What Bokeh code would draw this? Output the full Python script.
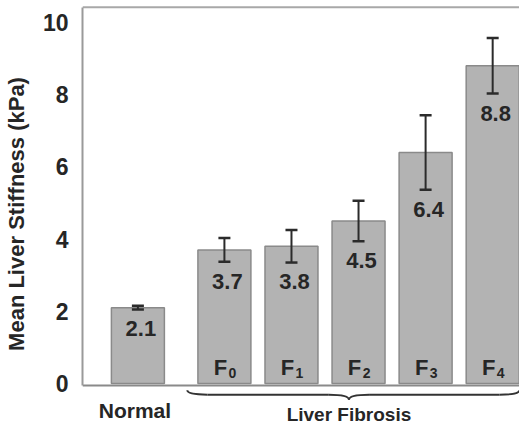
import math
from bokeh.plotting import figure
from bokeh.models import ColumnDataSource, Range1d, Whisker, TeeHead, FixedTicker
from bokeh.core.properties import value
from bokeh.embed import file_html
from bokeh.resources import INLINE

# ---- data ----
groups = ["Normal", "F0", "F1", "F2", "F3", "F4"]
xpos = [0.0, 1.29, 2.29, 3.29, 4.29, 5.29]
means = [2.1, 3.7, 3.8, 4.5, 6.4, 8.8]
errs = [0.05, 0.33, 0.45, 0.56, 1.03, 0.77]
value_labels = ["2.1", "3.7", "3.8", "4.5", "6.4", "8.8"]
stage_x = [1.29, 2.29, 3.29, 4.29, 5.29]
stage_sub = ["0", "1", "2", "3", "4"]
y_ticks = [0, 2, 4, 6, 8, 10]
normal_label = "Normal"
group_label = "Liver Fibrosis"
y_title = "Mean Liver Stiffness (kPa)"

FONT = "Liberation Sans"
TXT = "#262626"

W, H = 519, 427
X0, X1 = -0.826, 5.69
Y0, Y1 = -1.22, 10.61
p = figure(width=W, height=H, output_backend="svg", toolbar_location=None,
           x_range=Range1d(X0, X1), y_range=Range1d(Y0, Y1), x_axis_location=None,
           min_border_left=81, min_border_right=0, min_border_top=0, min_border_bottom=0)
p.outline_line_color = None
p.xgrid.visible = False
p.ygrid.visible = False
p.background_fill_color = "white"
p.border_fill_color = "white"

ya = p.yaxis[0]
ya.ticker = FixedTicker(ticks=y_ticks)
ya.bounds = (-0.055, 10.42)
ya.major_tick_line_color = None
ya.minor_tick_line_color = None
ya.axis_line_color = "#9a9a9a"
ya.axis_line_width = 2
ya.major_label_text_font = FONT
ya.major_label_text_font_style = "bold"
ya.major_label_text_font_size = "23px"
ya.major_label_text_color = TXT
ya.major_label_standoff = 8
ya.axis_label = y_title
ya.axis_label_text_font = FONT
ya.axis_label_text_font_style = "bold"
ya.axis_label_text_font_size = "22px"
ya.axis_label_text_color = TXT
ya.axis_label_standoff = 11

src = ColumnDataSource(dict(
    x=xpos, top=means,
    upper=[m + e for m, e in zip(means, errs)],
    lower=[m - e for m, e in zip(means, errs)],
    lab=value_labels,
    laby=[m - e - 0.33 for m, e in zip(means, errs)],
))

p.vbar(x="x", top="top", bottom=0, width=0.79, source=src,
       fill_color="#b3b3b3", line_color="#8a8a8a", line_width=1.5)

wh = Whisker(base="x", upper="upper", lower="lower", source=src, level="overlay",
             line_color="#2b2b2b", line_width=2,
             upper_head=TeeHead(size=12, line_color="#2b2b2b", line_width=2.5),
             lower_head=TeeHead(size=12, line_color="#2b2b2b", line_width=2.5))
p.add_layout(wh)

p.text(x="x", y="laby", text="lab", source=src, text_align="center", text_baseline="top",
       x_offset=3, text_font=value(FONT), text_font_style="bold", text_font_size="22px",
       text_color=TXT)

# stage labels F with subscript
fsrc = ColumnDataSource(dict(x=stage_x, f=["F"] * len(stage_x), sub=stage_sub))
p.text(x="x", y=0.44, text="f", source=fsrc, text_align="center", text_baseline="alphabetic",
       x_offset=-4, text_font=value(FONT), text_font_style="bold", text_font_size="22px",
       text_color=TXT)
p.text(x="x", y=0.28, text="sub", source=fsrc, text_align="center", text_baseline="alphabetic",
       x_offset=8, text_font=value(FONT), text_font_style="bold", text_font_size="14px",
       text_color=TXT)

# frame lines
p.segment(x0=[X0], y0=[-0.055], x1=[X1], y1=[-0.055], line_color="#8a8a8a", line_width=2)
p.segment(x0=[X0], y0=[10.42], x1=[X1], y1=[10.42], line_color="#a8a8a8", line_width=2)

# Normal label
p.text(x=[xpos[0]], y=[-0.75], text=[normal_label], text_align="center", text_baseline="alphabetic",
       x_offset=-3, text_font=value(FONT), text_font_style="bold", text_font_size="21px",
       text_color=TXT)

# brace
bl = 0.737
br = 5.69
tip = 3.147
ye = -0.19
yl = -0.31
yt = -0.45
d = 0.3
p.quadratic(x0=[bl, tip - d, tip, br], y0=[ye, yl, yt, ye],
            x1=[bl + d, tip, tip + d, br - d], y1=[yl, yt, yl, yl],
            cx=[bl, tip, tip, br], cy=[yl, yl, yl, yl],
            line_color="#333333", line_width=2)
p.segment(x0=[bl + d, tip + d], y0=[yl, yl], x1=[tip - d, br - d], y1=[yl, yl],
          line_color="#333333", line_width=2)

p.text(x=[tip], y=[-0.86], text=[group_label], text_align="center", text_baseline="alphabetic",
       text_font=value(FONT), text_font_style="bold", text_font_size="19px", text_color=TXT)

open("out.html", "w").write(file_html(p, INLINE))
